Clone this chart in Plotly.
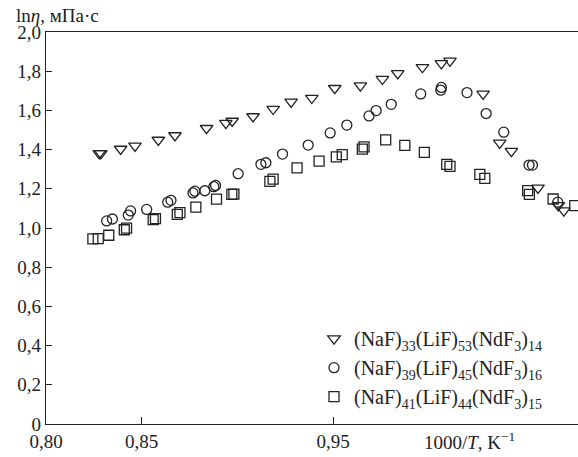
import plotly.graph_objects as go

# (NaF)33(LiF)53(NdF3)14 — triangles
tri_x = [0.8278, 0.8287, 0.8390, 0.8465, 0.8587, 0.8674, 0.8839, 0.8940, 0.8973,
         0.9082, 0.9187, 0.9281, 0.9389, 0.9509, 0.9643, 0.9758, 0.9838, 0.9967,
         1.0066, 1.0111, 1.0284, 1.0371, 1.0432, 1.0571, 1.0677, 1.0706]
tri_y = [1.381, 1.381, 1.403, 1.419, 1.449, 1.472, 1.509, 1.535, 1.546,
         1.569, 1.607, 1.643, 1.663, 1.713, 1.726, 1.760, 1.789, 1.820,
         1.840, 1.853, 1.684, 1.434, 1.392, 1.205, 1.115, 1.089]

# (NaF)39(LiF)45(NdF3)16 — circles
cir_x = [0.8317, 0.8347, 0.8430, 0.8442, 0.8526, 0.8636, 0.8653, 0.8768, 0.8778,
         0.8830, 0.8877, 0.8886, 0.9004, 0.9123, 0.9149, 0.9236, 0.9370, 0.9485,
         0.9572, 0.9688, 0.9725, 0.9804, 0.9958, 1.0066, 1.0063, 1.0200, 1.0300,
         1.0392, 1.0524, 1.0542, 1.0674]
cir_y = [1.036, 1.046, 1.066, 1.087, 1.095, 1.132, 1.141, 1.179, 1.188,
         1.190, 1.211, 1.217, 1.277, 1.325, 1.333, 1.377, 1.423, 1.485,
         1.525, 1.572, 1.599, 1.631, 1.684, 1.717, 1.703, 1.691, 1.584,
         1.489, 1.321, 1.321, 1.132]

# (NaF)41(LiF)44(NdF3)15 — squares
sq_x = [0.8245, 0.8273, 0.8328, 0.8409, 0.8421, 0.8560, 0.8572, 0.8686, 0.8700,
        0.8783, 0.8891, 0.8971, 0.8982, 0.9170, 0.9187, 0.9312, 0.9427, 0.9517,
        0.9548, 0.9653, 0.9662, 0.9775, 0.9875, 0.9977, 1.0094, 1.0111, 1.0267,
        1.0293, 1.0517, 1.0526, 1.0650, 1.0763]
sq_y = [0.945, 0.946, 0.963, 0.991, 0.999, 1.043, 1.048, 1.070, 1.078,
        1.106, 1.147, 1.172, 1.173, 1.238, 1.249, 1.307, 1.341, 1.363,
        1.374, 1.402, 1.414, 1.450, 1.422, 1.386, 1.325, 1.314, 1.274,
        1.253, 1.191, 1.172, 1.148, 1.114]

names = ["(NaF)<sub>33</sub>(LiF)<sub>53</sub>(NdF<sub>3</sub>)<sub>14</sub>",
         "(NaF)<sub>39</sub>(LiF)<sub>45</sub>(NdF<sub>3</sub>)<sub>16</sub>",
         "(NaF)<sub>41</sub>(LiF)<sub>44</sub>(NdF<sub>3</sub>)<sub>15</sub>"]

x_tickvals = [0.80, 0.85, 0.95]
x_ticktext = ["0,80", "0,85", "0,95"]
y_tickvals = [0, 0.2, 0.4, 0.6, 0.8, 1.0, 1.2, 1.4, 1.6, 1.8, 2.0]
y_ticktext = ["0", "0,2", "0,4", "0,6", "0,8", "1,0", "1,2", "1,4", "1,6", "1,8", "2,0"]

FONT = "Liberation Serif"
INK = "#222222"
L, T, B = 46, 32, 33
PW = 578 - L
PH = 457 - T - B

fig = go.Figure()
for xs, ys, sym, sz, nm in [(tri_x, tri_y, "triangle-down-open", 11, names[0]),
                            (cir_x, cir_y, "circle-open", 10, names[1]),
                            (sq_x, sq_y, "square-open", 10, names[2])]:
    fig.add_trace(go.Scatter(
        x=xs, y=ys, mode="markers", name=nm,
        marker=dict(symbol=sym, size=sz, color=INK, line=dict(width=1.3, color=INK)),
    ))

fig.update_layout(
    width=578, height=457,
    margin=dict(l=L, r=0, t=T, b=B, pad=0, autoexpand=False),
    paper_bgcolor="white", plot_bgcolor="white",
    font=dict(family=FONT, size=19, color=INK),
    showlegend=True,
    legend=dict(x=(314 - L) / PW, y=0.02, xanchor="left", yanchor="bottom",
                bgcolor="rgba(0,0,0,0)", font=dict(family=FONT, size=20, color=INK),
                traceorder="normal", itemwidth=30, tracegroupgap=0),
    xaxis=dict(range=[0.80, 1.078], tickvals=x_tickvals, ticktext=x_ticktext,
               ticks="inside", ticklen=7, tickwidth=1.3, tickcolor=INK,
               showline=True, linecolor=INK, linewidth=1.3, mirror=True,
               showgrid=False, zeroline=False, automargin=False,
               tickfont=dict(family=FONT, size=19, color=INK)),
    yaxis=dict(range=[0, 2.0], tickvals=y_tickvals, ticktext=y_ticktext,
               ticks="inside", ticklen=6, tickwidth=1.3, tickcolor=INK,
               showline=True, linecolor=INK, linewidth=1.3,
               showgrid=False, zeroline=False, automargin=False,
               tickfont=dict(family=FONT, size=19, color=INK)),
    annotations=[
        dict(text="ln<i>η</i>, мПа·с", xref="paper", yref="paper",
             x=(14 - L) / PW, y=1 + (T - 15) / PH, xanchor="left", yanchor="middle",
             showarrow=False, font=dict(family=FONT, size=19, color=INK)),
        dict(text="1000/<i>T</i>, K<sup>−1</sup>", xref="paper", yref="paper",
             x=(422 - L) / PW, y=-(441 - (457 - B)) / PH, xanchor="left", yanchor="middle",
             showarrow=False, font=dict(family=FONT, size=19, color=INK)),
    ],
)

fig.write_html("out.html", config={"displayModeBar": False},
               post_script="document.body.style.margin='0px';")
